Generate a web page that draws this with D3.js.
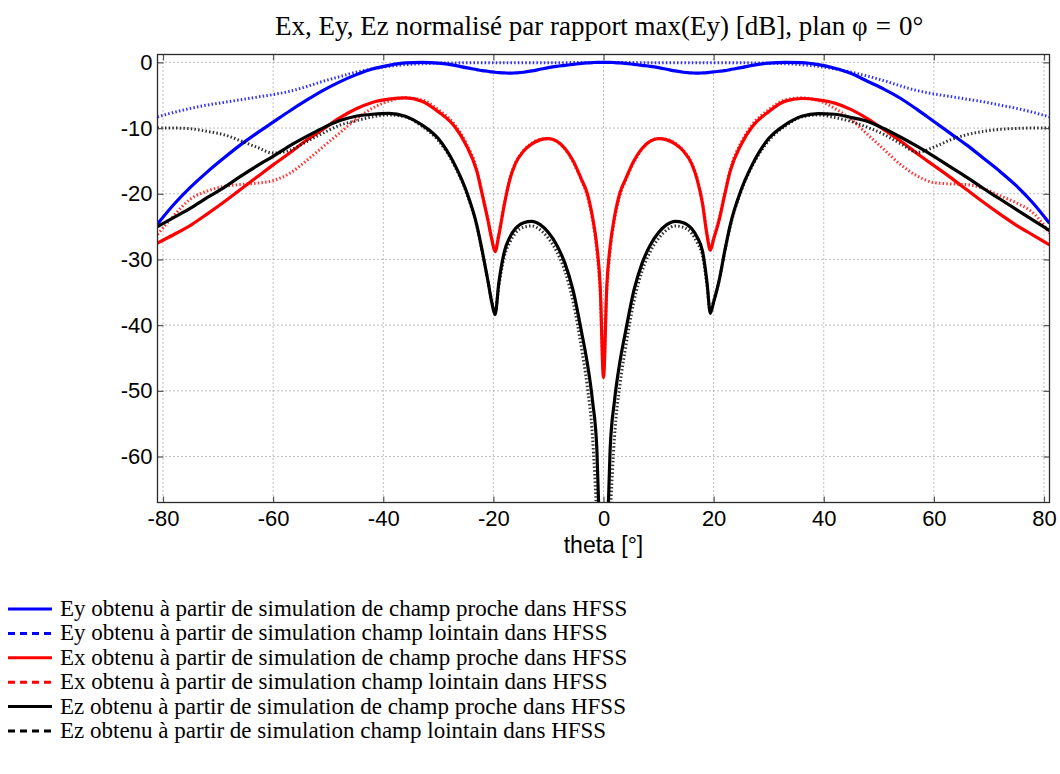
<!DOCTYPE html>
<html>
<head>
<meta charset="utf-8">
<script src="https://cdn.jsdelivr.net/npm/d3@7"></script>
<style>
  html, body { margin: 0; padding: 0; background: #fff; }
  svg { display: block; }
</style>
</head>
<body>
<svg id="chart" width="1060" height="774"></svg>
<script>
// ---------------- DATA ----------------
const theta = [
  -81,-78,-75,-72,-69,-66,-63,-60,-57,-54,-51,-48,-45,-42,-39,-36,-33,-30,-27,-25,
  -23,-22,-21,-20.3,-19.7,-19,-18,-17,-16,-14.5,-13,-11.5,-10,-8.5,-7,-5.5,-4,-3,-2,-1.2,-0.6,0,
  0.6,1.2,2,3,4,5.5,7,8.5,10,11.5,13,14.5,16,17,18,18.8,19.4,20,21,22,23,25,27,30,33,36,
  39,42,45,48,51,54,57,60,63,66,69,72,75,78,81
];

// Ey, near-field simulation (solid blue)
const eyNear = [
  -24.6,-21.6,-19.0,-16.7,-14.6,-12.6,-10.8,-9.1,-7.4,-5.8,-4.3,-3.0,-1.9,-1.0,-0.45,-0.08,0,-0.1,-0.45,-0.8,
  -1.1,-1.25,-1.35,-1.45,-1.5,-1.55,-1.6,-1.65,-1.6,-1.5,-1.3,-1.05,-0.8,-0.6,-0.45,-0.3,-0.15,-0.08,-0.03,0,0,0,
  0,0,-0.03,-0.08,-0.15,-0.3,-0.45,-0.6,-0.8,-1.05,-1.3,-1.5,-1.6,-1.65,-1.6,-1.55,-1.5,-1.45,-1.35,-1.25,-1.1,-0.8,-0.45,-0.1,0,-0.05,
  -0.35,-0.9,-1.7,-2.9,-4.1,-5.5,-7.2,-9.0,-10.8,-12.6,-14.6,-16.6,-18.8,-21.4,-24.5
];

// Ey, far-field simulation (dotted blue)
const eyFar = [
  -8.3,-7.6,-7.0,-6.5,-6.1,-5.7,-5.3,-4.9,-4.4,-3.7,-2.9,-2.2,-1.5,-1.0,-0.6,-0.35,-0.2,-0.12,-0.08,-0.06,
  -0.05,-0.05,-0.05,-0.05,-0.05,-0.05,-0.05,-0.05,-0.05,-0.05,-0.05,-0.05,-0.05,-0.05,-0.05,-0.03,-0.02,-0.01,0,0,0,0,
  0,0,0,-0.01,-0.02,-0.03,-0.05,-0.05,-0.05,-0.05,-0.05,-0.05,-0.05,-0.05,-0.05,-0.05,-0.05,-0.05,-0.05,-0.05,-0.05,-0.06,-0.08,-0.12,-0.2,-0.35,
  -0.6,-1.0,-1.5,-2.1,-2.8,-3.6,-4.3,-4.8,-5.2,-5.6,-6.0,-6.5,-7.0,-7.6,-8.3
];

// Ex, near-field simulation (solid red)
const exNear = [
  -27.5,-26.2,-24.8,-23.1,-21.3,-19.4,-17.5,-15.6,-13.8,-11.9,-10.2,-8.5,-7.1,-6.1,-5.6,-5.4,-5.9,-7.5,-9.8,-12.5,
  -16.6,-20.2,-24.0,-26.9,-28.8,-26.3,-21.6,-17.8,-15.4,-13.5,-12.4,-11.8,-11.6,-12.0,-13.1,-15.0,-17.8,-19.8,-23.5,-28.0,-34.0,-48.0,
  -34.0,-28.0,-23.5,-19.8,-17.8,-15.0,-13.1,-12.0,-11.6,-11.8,-12.4,-13.5,-15.4,-17.8,-21.6,-26.3,-28.6,-26.9,-24.0,-20.2,-16.6,-12.5,-9.8,-7.5,-5.9,-5.5,
  -5.7,-6.2,-7.2,-8.6,-10.3,-12.0,-13.9,-15.7,-17.5,-19.4,-21.3,-23.1,-24.8,-26.3,-27.8
];

// Ex, far-field simulation (dotted red)
const exFar = [
  -26.2,-23.3,-20.8,-19.6,-18.9,-18.6,-18.4,-18.0,-16.9,-15.0,-12.9,-10.8,-8.7,-7.0,-5.9,-5.4,-5.7,-7.2,-9.5,-12.2,
  -16.3,-20.0,-23.8,-26.8,-28.6,-26.0,-21.4,-17.6,-15.3,-13.4,-12.3,-11.7,-11.6,-12.0,-13.2,-15.2,-18.0,-20.2,-24.0,-28.8,-35.0,-47.0,
  -35.0,-28.8,-24.0,-20.2,-18.0,-15.2,-13.2,-12.0,-11.6,-11.7,-12.3,-13.4,-15.3,-17.6,-21.4,-26.0,-28.4,-26.8,-23.8,-20.0,-16.3,-12.2,-9.5,-7.2,-5.7,-5.4,
  -5.8,-7.0,-8.7,-11.0,-13.3,-15.6,-17.3,-18.3,-18.5,-18.6,-19.2,-20.3,-21.4,-22.9,-26.0
];

// Ez, near-field simulation (solid black)
const ezNear = [
  -25.0,-23.6,-22.2,-20.6,-19.1,-17.4,-15.8,-14.3,-12.7,-11.3,-10.0,-8.9,-8.2,-7.9,-7.75,-8.2,-9.5,-11.6,-15.6,-19.4,
  -24.8,-28.8,-33.2,-36.5,-38.4,-33.5,-28.8,-26.6,-25.3,-24.4,-24.2,-24.7,-25.9,-27.8,-30.6,-34.8,-41.0,-45.5,-51.5,-59.0,-75.0,-95.0,
  -75.0,-59.0,-51.5,-45.5,-41.0,-34.8,-30.6,-27.8,-25.9,-24.7,-24.2,-24.4,-25.3,-26.6,-28.8,-33.5,-38.2,-36.5,-33.2,-28.8,-24.8,-19.4,-15.6,-11.6,-9.5,-8.2,
  -7.8,-7.9,-8.4,-9.0,-10.1,-11.4,-12.8,-14.3,-15.9,-17.5,-19.2,-20.8,-22.4,-24.0,-25.6
];

// Ez, far-field simulation (dotted black)
const ezFar = [
  -10.0,-10.0,-10.1,-10.5,-11.0,-11.9,-12.9,-13.8,-13.4,-12.1,-10.8,-9.6,-8.9,-8.3,-8.0,-8.3,-9.7,-11.9,-15.8,-19.6,
  -25.0,-28.9,-33.2,-36.3,-38.0,-34.0,-29.5,-27.4,-26.0,-25.1,-24.9,-25.5,-26.8,-28.8,-31.8,-36.5,-43.5,-49.0,-57.0,-70.0,-85.0,-95.0,
  -85.0,-70.0,-57.0,-49.0,-43.5,-36.5,-31.8,-28.8,-26.8,-25.5,-24.9,-25.1,-26.0,-27.4,-29.5,-34.0,-37.8,-36.3,-33.2,-28.9,-25.0,-19.6,-15.8,-11.9,-9.7,-8.3,
  -8.0,-8.4,-9.0,-9.9,-11.0,-12.4,-13.7,-12.9,-11.8,-11.0,-10.5,-10.2,-10.05,-10.0,-10.0
];

const xTicks = [-80, -60, -40, -20, 0, 20, 40, 60, 80];
const yTicks = [0, -10, -20, -30, -40, -50, -60];

const titleText = "Ex, Ey, Ez normalisé par rapport max(Ey) [dB], plan ";
const xLabel = "theta [°]";

const seriesNames = [
  "Ey obtenu à partir de simulation de champ proche dans HFSS",
  "Ey obtenu à partir de simulation champ lointain dans HFSS",
  "Ex obtenu à partir de simulation de champ proche dans HFSS",
  "Ex obtenu à partir de simulation champ lointain dans HFSS",
  "Ez obtenu à partir de simulation de champ proche dans HFSS",
  "Ez obtenu à partir de simulation champ lointain dans HFSS"
];
const seriesValues = [eyNear, eyFar, exNear, exFar, ezNear, ezFar];
const seriesColors = ["#0000ff", "#0000ff", "#ff0000", "#ff0000", "#000000", "#000000"];
const seriesDotted = [false, true, false, true, false, true];

// ---------------- LAYOUT ----------------
const svg = d3.select("#chart");
const plot = { left: 157.5, right: 1049.5, top: 54.5, bottom: 502.5 };

const x = d3.scaleLinear().domain([-81, 81]).range([plot.left, plot.right]);
const y = d3.scaleLinear().domain([-67, 1.2]).range([plot.bottom, plot.top]);

svg.append("defs").append("clipPath").attr("id", "clip")
  .append("rect")
  .attr("x", plot.left).attr("y", plot.top)
  .attr("width", plot.right - plot.left).attr("height", plot.bottom - plot.top);

// Grid
const grid = svg.append("g").attr("class", "grid");
grid.selectAll("line.vx").data(xTicks).join("line")
  .attr("x1", d => x(d)).attr("x2", d => x(d))
  .attr("y1", plot.top).attr("y2", plot.bottom)
  .attr("stroke", "#808080").attr("stroke-width", 1).attr("stroke-dasharray", "1,3");
grid.selectAll("line.hy").data(yTicks).join("line")
  .attr("y1", d => y(d)).attr("y2", d => y(d))
  .attr("x1", plot.left).attr("x2", plot.right)
  .attr("stroke", "#808080").attr("stroke-width", 1).attr("stroke-dasharray", "1,3");

// Curves
const line = d3.line()
  .x((d, i) => x(theta[i]))
  .y(d => y(d))
  .curve(d3.curveMonotoneX);

const curves = svg.append("g").attr("clip-path", "url(#clip)");
seriesValues.forEach((vals, k) => {
  curves.append("path")
    .attr("d", line(vals))
    .attr("fill", "none")
    .attr("stroke", seriesColors[k])
    .attr("stroke-width", seriesDotted[k] ? 3 : 3.2)
    .attr("stroke-opacity", seriesDotted[k] ? 0.8 : 1)
    .attr("stroke-dasharray", seriesDotted[k] ? "1.5,2.2" : null)
    .attr("stroke-linejoin", "round");
});

// Axes (MATLAB style ticks inside)
const axisFont = "'Liberation Sans', Arial, Helvetica, sans-serif";
const fmt = d => String(d);
const gx = svg.append("g").attr("transform", `translate(0,${plot.bottom})`)
  .call(d3.axisBottom(x).tickValues(xTicks).tickSize(-6).tickPadding(8).tickFormat(fmt));
const gxTop = svg.append("g").attr("transform", `translate(0,${plot.top})`)
  .call(d3.axisTop(x).tickValues(xTicks).tickSize(-6).tickFormat(""));
const gy = svg.append("g").attr("transform", `translate(${plot.left},0)`)
  .call(d3.axisLeft(y).tickValues(yTicks).tickSize(-6).tickPadding(5).tickFormat(fmt));
const gyR = svg.append("g").attr("transform", `translate(${plot.right},0)`)
  .call(d3.axisRight(y).tickValues(yTicks).tickSize(-6).tickFormat(""));

[gx, gxTop, gy, gyR].forEach(g => {
  g.select(".domain").remove();
  g.selectAll(".tick line").attr("stroke", "#555").attr("stroke-width", 1.2);
  g.selectAll("text").attr("font-family", axisFont).attr("font-size", 22).attr("fill", "#000");
});

// Box
svg.append("rect")
  .attr("x", plot.left).attr("y", plot.top)
  .attr("width", plot.right - plot.left).attr("height", plot.bottom - plot.top)
  .attr("fill", "none").attr("stroke", "#2a2a2a").attr("stroke-width", 1.3);

// x label
svg.append("text")
  .attr("x", x(0)).attr("y", 553)
  .attr("text-anchor", "middle")
  .attr("font-family", axisFont).attr("font-size", 23)
  .text(xLabel);

// Title
const serif = "'Liberation Serif', 'Times New Roman', Times, serif";
const title = svg.append("text")
  .attr("x", 275).attr("y", 35)
  .attr("font-family", serif).attr("font-size", 27);
title.append("tspan").text(titleText);
title.append("tspan").text("φ");
title.append("tspan").attr("dx", 8).text("=");
title.append("tspan").attr("dx", 8).text("0°");

// Legend
const legend = svg.append("g");
const rowY = d3.scaleLinear().domain([0, 5]).range([609, 731]);
seriesNames.forEach((name, k) => {
  const yy = rowY(k);
  legend.append("line")
    .attr("x1", 8).attr("x2", 52).attr("y1", yy).attr("y2", yy)
    .attr("stroke", seriesColors[k]).attr("stroke-width", 3)
    .attr("stroke-dasharray", seriesDotted[k] ? "7,5" : null);
  legend.append("text")
    .attr("x", 60).attr("y", yy + 7)
    .attr("font-family", serif).attr("font-size", 23)
    .text(name);
});
</script>
</body>
</html>
